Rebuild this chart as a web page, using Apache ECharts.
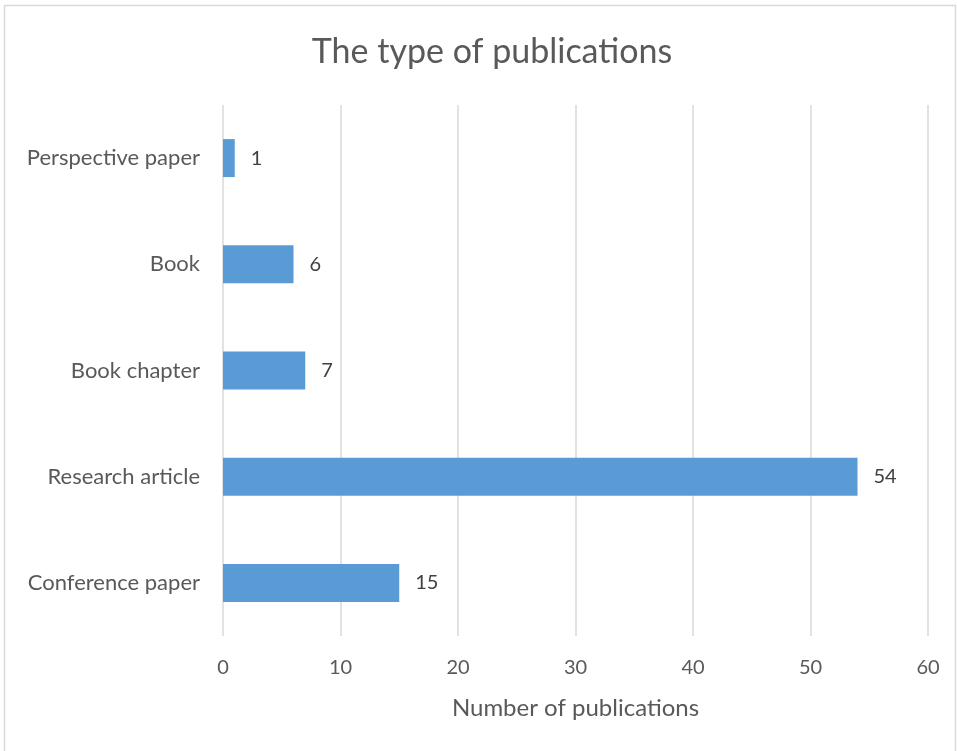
<!DOCTYPE html>
<html>
<head>
<meta charset="utf-8">
<script src="https://cdn.jsdelivr.net/npm/echarts@6/dist/echarts.min.js"></script>
<style>
  html, body { margin: 0; padding: 0; background: #ffffff; }
  #chart { width: 957px; height: 751px; }
</style>
</head>
<body>
<div id="chart"></div>
<script>
// Publication types, listed bottom to top on the category axis
const categories = ['Conference paper', 'Research article', 'Book chapter', 'Book', 'Perspective paper'];
const counts = [15, 54, 7, 6, 1];
const xTicks = { min: 0, max: 60, interval: 10 };

const FONT = 'Lato, "Open Sans", sans-serif';
const chart = echarts.init(document.getElementById('chart'));

chart.setOption({
  backgroundColor: '#ffffff',
  animation: false,
  graphic: [{
    type: 'rect',
    shape: { x: 4.5, y: 5.5, width: 951, height: 800 },
    style: { fill: 'none', stroke: '#d9d9d9', lineWidth: 1.5 },
    silent: true
  }],
  title: {
    text: 'The type of publications',
    left: 487,
    textAlign: 'center',
    top: 30,
    textStyle: { fontFamily: FONT, fontSize: 34, fontWeight: 'normal', color: '#595959' }
  },
  grid: { left: 223, right: 29, top: 105, bottom: 115 },
  xAxis: {
    type: 'value',
    min: xTicks.min,
    max: xTicks.max,
    interval: xTicks.interval,
    name: 'Number of publications',
    nameLocation: 'middle',
    nameGap: 60,
    nameTextStyle: { fontFamily: FONT, fontSize: 24, color: '#595959' },
    axisLine: { show: false },
    axisTick: { show: false },
    axisLabel: { fontFamily: FONT, fontSize: 20, color: '#595959', margin: 22 },
    splitLine: { lineStyle: { color: '#d9d9d9', width: 1.5 } }
  },
  yAxis: {
    type: 'category',
    data: categories,
    axisLine: { show: false },
    axisTick: { show: false },
    axisLabel: { fontFamily: FONT, fontSize: 22, color: '#595959', margin: 23 }
  },
  series: [{
    type: 'bar',
    data: counts,
    barWidth: 38,
    itemStyle: { color: '#5b9bd5' },
    label: {
      show: true,
      position: 'right',
      distance: 16,
      fontFamily: FONT,
      fontSize: 20,
      color: '#404040'
    }
  }]
});
</script>
</body>
</html>
